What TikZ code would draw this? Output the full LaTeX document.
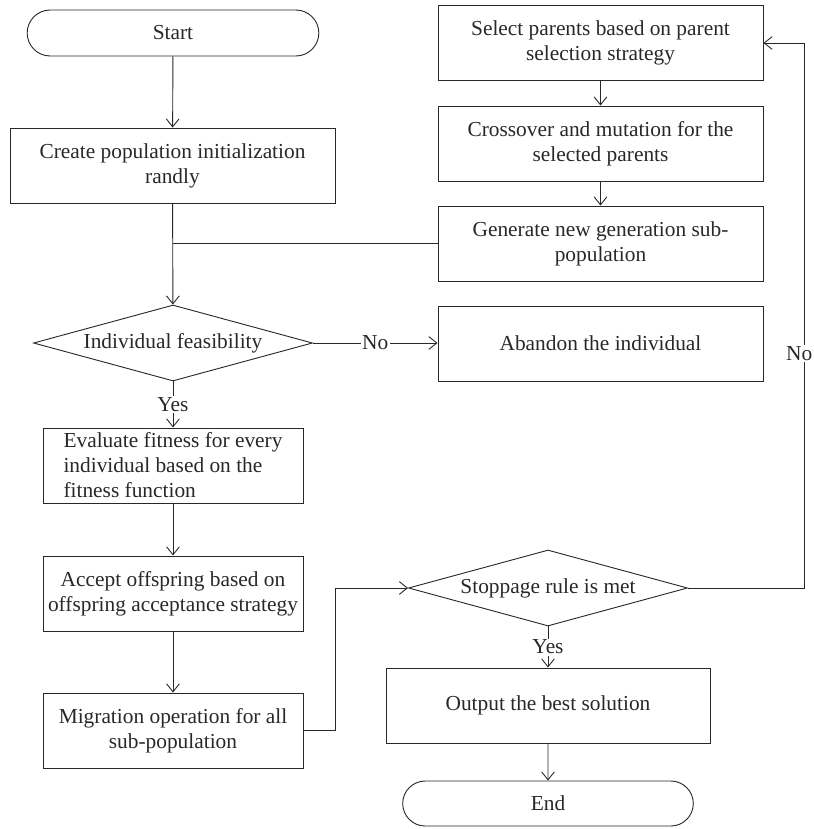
\documentclass[tikz,border=0pt]{standalone}
\usepackage{fontspec}
\setmainfont{Liberation Serif}
\usetikzlibrary{arrows.meta,shapes.geometric,shapes.misc,positioning}
\definecolor{linegray}{RGB}{40,40,40}
\tikzset{
  process/.style={draw,rectangle,minimum width=8.125cm,minimum height=1.875cm,align=center,inner sep=2pt},
  smallbox/.style={process,minimum width=6.5cm},
  decision/.style={draw,diamond,aspect=3.6,inner sep=0pt,minimum width=6.975cm,minimum height=1.9cm},
  terminal/.style={draw,rounded rectangle,minimum width=7.525cm,minimum height=1.15cm},
  answer/.style={fill=white,inner sep=1pt}
}

\begin{document}
\begin{tikzpicture}[>={Straight Barb[length=2mm,width=3.2mm]},line width=0.65pt,color=linegray,
  font=\fontsize{15.2}{17.8}\selectfont]
  \useasboundingbox (0,0) rectangle (20.35,-20.725);
  % left column
  \node[terminal] (start) at (4.325,-0.825) {Start};
  \node[process] (create) at (4.3125,-4.1375) {Create population initialization\\randly};
  \node[decision] (feas) at (4.325,-8.575) {Individual feasibility};
  \node[smallbox,align=left] (eval) at (4.325,-11.6375) {Evaluate fitness for every\\individual based on the\\fitness function};
  \node[smallbox] (accept) at (4.325,-14.8375) {Accept offspring based on\\offspring acceptance strategy};
  \node[smallbox] (migr) at (4.325,-18.2625) {Migration operation for all\\sub-population};
  % right column
  \node[process] (select) at (15.0125,-1.075) {Select parents based on parent\\selection strategy};
  \node[process] (cross) at (15.0125,-3.5875) {Crossover and mutation for the\\selected parents};
  \node[process] (gen) at (15.0125,-6.0875) {Generate new generation sub-\\population};
  \node[process] (abandon) at (15.0125,-8.5875) {Abandon the individual};
  \node[decision] (stop) at (13.7,-14.7) {Stoppage rule is met};
  \node[process,minimum width=8.1cm] (output) at (13.7,-17.6375) {Output the best solution};
  \node[terminal,minimum width=7.5cm,minimum height=1.125cm] (end) at (13.7,-20.0875) {End};
  \coordinate (loop) at (20.1,-14.7);

  \draw[->] (start) -- (create);
  \draw[->] (create) -- (feas);
  \draw (gen.west) -- (gen.west -| create);
  \draw[->] (feas.east) -- node[answer]{No} (feas.east -| abandon.west);
  \draw[->] (feas) -- node[answer]{Yes} (eval);
  \draw[->] (eval) -- (accept);
  \draw[->] (accept) -- (migr);
  \draw[->] (migr.east) -- ++(0.8,0) |- (stop.west);
  \draw[->] (stop) -- node[answer]{Yes} (output);
  \draw[->] (output) -- (end);
  \draw[->] (select) -- (cross);
  \draw[->] (cross) -- (gen);
  \draw[->] (stop.east) -- (loop) |- node[answer,pos=0.215,xshift=-0.12cm]{No} (select.east);
\end{tikzpicture}
\end{document}
